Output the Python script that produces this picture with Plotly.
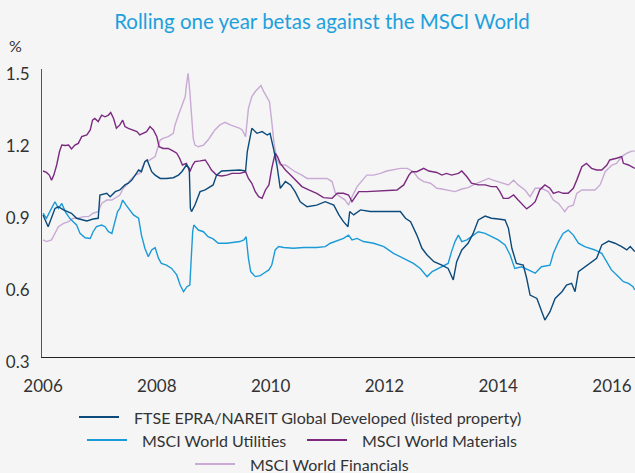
import plotly.graph_objects as go

# ---------------- data (decimal years, beta) ----------------
series_names = [
    "FTSE EPRA/NAREIT Global Developed (listed property)",
    "MSCI World Utilities",
    "MSCI World Materials",
    "MSCI World Financials",
]
series_colors = ["#0c4a7b", "#1a9bd7", "#7b2a80", "#c9aad4"]

ftse_year = [2006.00, 2006.09, 2006.21, 2006.27, 2006.36, 2006.45, 2006.50, 2006.59, 2006.68, 2006.77,
             2006.88, 2006.97, 2007.00, 2007.12, 2007.18, 2007.27, 2007.35, 2007.44, 2007.50, 2007.56,
             2007.62, 2007.68, 2007.73, 2007.79, 2007.83, 2007.91, 2007.97, 2008.06, 2008.17, 2008.29,
             2008.38, 2008.44, 2008.52, 2008.57, 2008.59, 2008.61, 2008.67, 2008.76, 2008.85, 2008.93,
             2008.99, 2009.05, 2009.14, 2009.46, 2009.56, 2009.59, 2009.67, 2009.76, 2009.85, 2009.94,
             2009.99, 2010.05, 2010.11, 2010.17, 2010.26, 2010.35, 2010.43, 2010.52, 2010.64, 2010.81,
             2010.96, 2011.11, 2011.20, 2011.28, 2011.36, 2011.39, 2011.46, 2011.58, 2011.75, 2011.99,
             2012.28, 2012.37, 2012.46, 2012.57, 2012.66, 2012.75, 2012.87, 2013.01, 2013.12, 2013.21,
             2013.27, 2013.36, 2013.47, 2013.56, 2013.65, 2013.77, 2013.88, 2014.00, 2014.12, 2014.18,
             2014.24, 2014.32, 2014.44, 2014.50, 2014.56, 2014.68, 2014.76, 2014.82, 2014.91, 2015.00,
             2015.12, 2015.20, 2015.29, 2015.35, 2015.41, 2015.52, 2015.64, 2015.73, 2015.82, 2015.94,
             2016.05, 2016.17, 2016.26, 2016.32, 2016.40]
ftse_beta = [0.892, 0.843, 0.919, 0.926, 0.913, 0.906, 0.899, 0.878, 0.871, 0.867,
             0.875, 0.878, 0.975, 0.982, 0.968, 0.989, 0.996, 1.017, 1.024, 1.037,
             1.058, 1.079, 1.072, 1.114, 1.121, 1.072, 1.058, 1.044, 1.044, 1.047,
             1.058, 1.072, 1.100, 1.086, 0.919, 0.906, 0.933, 0.989, 0.996, 1.010,
             1.017, 1.058, 1.075, 1.079, 1.075, 1.156, 1.253, 1.232, 1.239, 1.225,
             1.232, 1.169, 1.100, 1.003, 1.031, 1.017, 0.989, 0.947, 0.926, 0.933,
             0.947, 0.933, 0.892, 0.864, 0.843, 0.906, 0.892, 0.913, 0.906, 0.906,
             0.906, 0.878, 0.864, 0.808, 0.753, 0.725, 0.697, 0.683, 0.669, 0.621,
             0.697, 0.746, 0.774, 0.815, 0.871, 0.887, 0.878, 0.875, 0.871, 0.836,
             0.753, 0.690, 0.683, 0.628, 0.558, 0.544, 0.489, 0.454, 0.489, 0.544,
             0.572, 0.600, 0.607, 0.572, 0.656, 0.676, 0.697, 0.711, 0.767, 0.783,
             0.774, 0.760, 0.746, 0.760, 0.739]

util_year = [2006.00, 2006.06, 2006.12, 2006.21, 2006.27, 2006.33, 2006.39, 2006.47, 2006.53, 2006.59,
             2006.65, 2006.74, 2006.83, 2006.88, 2006.94, 2007.03, 2007.09, 2007.15, 2007.21, 2007.27,
             2007.31, 2007.35, 2007.40, 2007.46, 2007.50, 2007.59, 2007.68, 2007.73, 2007.79, 2007.85,
             2007.91, 2007.97, 2008.03, 2008.08, 2008.17, 2008.26, 2008.35, 2008.41, 2008.47, 2008.53,
             2008.58, 2008.63, 2008.65, 2008.73, 2008.82, 2008.90, 2008.99, 2009.08, 2009.23, 2009.46,
             2009.53, 2009.57, 2009.61, 2009.65, 2009.73, 2009.82, 2009.88, 2009.97, 2010.02, 2010.08,
             2010.14, 2010.23, 2010.40, 2010.58, 2010.81, 2010.96, 2011.05, 2011.17, 2011.28, 2011.37,
             2011.43, 2011.52, 2011.63, 2011.81, 2011.99, 2012.16, 2012.34, 2012.51, 2012.63, 2012.75,
             2012.84, 2013.01, 2013.12, 2013.18, 2013.24, 2013.30, 2013.36, 2013.45, 2013.53, 2013.65,
             2013.77, 2013.88, 2014.00, 2014.12, 2014.21, 2014.29, 2014.41, 2014.53, 2014.65, 2014.76,
             2014.91, 2014.97, 2015.06, 2015.14, 2015.23, 2015.32, 2015.41, 2015.52, 2015.70, 2015.82,
             2015.91, 2015.99, 2016.11, 2016.20, 2016.29, 2016.37, 2016.40]
util_beta = [0.899, 0.878, 0.906, 0.947, 0.919, 0.940, 0.906, 0.878, 0.864, 0.850,
             0.815, 0.797, 0.794, 0.822, 0.843, 0.850, 0.843, 0.822, 0.815, 0.864,
             0.906, 0.919, 0.954, 0.933, 0.919, 0.892, 0.878, 0.808, 0.753, 0.718,
             0.746, 0.756, 0.711, 0.690, 0.683, 0.669, 0.642, 0.600, 0.572, 0.593,
             0.600, 0.822, 0.850, 0.829, 0.822, 0.801, 0.792, 0.774, 0.774, 0.781,
             0.788, 0.801, 0.711, 0.656, 0.635, 0.639, 0.649, 0.663, 0.683, 0.746,
             0.760, 0.756, 0.753, 0.756, 0.756, 0.760, 0.774, 0.783, 0.794, 0.808,
             0.788, 0.794, 0.781, 0.774, 0.760, 0.732, 0.711, 0.690, 0.669, 0.635,
             0.656, 0.676, 0.690, 0.739, 0.781, 0.808, 0.781, 0.788, 0.801, 0.822,
             0.815, 0.801, 0.788, 0.767, 0.725, 0.669, 0.676, 0.663, 0.649, 0.676,
             0.683, 0.732, 0.781, 0.815, 0.829, 0.808, 0.774, 0.760, 0.746, 0.732,
             0.697, 0.663, 0.635, 0.614, 0.607, 0.593, 0.579]

mat_year = [2006.00, 2006.06, 2006.11, 2006.15, 2006.19, 2006.24, 2006.29, 2006.33, 2006.39, 2006.45,
            2006.50, 2006.56, 2006.62, 2006.68, 2006.77, 2006.83, 2006.87, 2006.91, 2006.97, 2007.03,
            2007.09, 2007.15, 2007.19, 2007.24, 2007.29, 2007.35, 2007.40, 2007.44, 2007.50, 2007.59,
            2007.65, 2007.70, 2007.76, 2007.82, 2007.88, 2007.94, 2008.00, 2008.04, 2008.11, 2008.20,
            2008.29, 2008.35, 2008.40, 2008.45, 2008.52, 2008.58, 2008.63, 2008.67, 2008.76, 2008.85,
            2008.91, 2008.96, 2009.05, 2009.14, 2009.23, 2009.32, 2009.46, 2009.50, 2009.56, 2009.61,
            2009.67, 2009.73, 2009.79, 2009.85, 2009.91, 2009.97, 2010.02, 2010.08, 2010.12, 2010.17,
            2010.26, 2010.35, 2010.43, 2010.55, 2010.67, 2010.81, 2010.93, 2011.08, 2011.17, 2011.28,
            2011.37, 2011.43, 2011.49, 2011.55, 2011.69, 2011.87, 2012.04, 2012.22, 2012.34, 2012.43,
            2012.48, 2012.57, 2012.69, 2012.78, 2012.92, 2013.01, 2013.09, 2013.18, 2013.30, 2013.36,
            2013.45, 2013.53, 2013.65, 2013.77, 2013.88, 2013.97, 2014.03, 2014.09, 2014.18, 2014.27,
            2014.35, 2014.44, 2014.50, 2014.59, 2014.65, 2014.73, 2014.82, 2014.91, 2014.97, 2015.06,
            2015.14, 2015.23, 2015.32, 2015.38, 2015.47, 2015.55, 2015.64, 2015.73, 2015.82, 2015.91,
            2015.96, 2016.08, 2016.17, 2016.20, 2016.29, 2016.40]
mat_beta = [1.075, 1.069, 1.058, 1.037, 1.058, 1.100, 1.156, 1.183, 1.181, 1.183,
            1.167, 1.183, 1.190, 1.218, 1.225, 1.246, 1.287, 1.294, 1.281, 1.308,
            1.301, 1.308, 1.319, 1.294, 1.253, 1.267, 1.287, 1.260, 1.253, 1.246,
            1.239, 1.225, 1.232, 1.239, 1.260, 1.246, 1.218, 1.176, 1.169, 1.169,
            1.158, 1.149, 1.128, 1.100, 1.107, 1.072, 1.100, 1.114, 1.117, 1.121,
            1.100, 1.079, 1.058, 1.054, 1.058, 1.065, 1.065, 1.069, 1.072, 1.044,
            1.024, 0.989, 0.968, 0.961, 0.996, 1.017, 1.086, 1.149, 1.135, 1.107,
            1.079, 1.058, 1.037, 1.010, 0.996, 0.982, 0.964, 0.961, 0.982, 0.982,
            0.975, 0.947, 0.968, 0.989, 0.989, 0.992, 0.996, 0.996, 1.017, 1.058,
            1.072, 1.072, 1.086, 1.075, 1.069, 1.058, 1.065, 1.058, 1.065, 1.075,
            1.051, 1.024, 1.017, 1.017, 1.010, 1.010, 0.989, 0.961, 0.961, 0.975,
            0.954, 0.933, 0.917, 0.933, 0.947, 0.996, 1.017, 1.003, 0.982, 0.989,
            0.982, 0.982, 1.003, 1.037, 1.093, 1.107, 1.086, 1.079, 1.079, 1.100,
            1.121, 1.128, 1.135, 1.107, 1.100, 1.086]

fin_year = [2006.00, 2006.06, 2006.15, 2006.21, 2006.27, 2006.36, 2006.45, 2006.53, 2006.62, 2006.71,
            2006.80, 2006.88, 2006.97, 2007.03, 2007.12, 2007.21, 2007.29, 2007.35, 2007.41, 2007.47,
            2007.53, 2007.62, 2007.70, 2007.79, 2007.88, 2007.97, 2008.03, 2008.06, 2008.11, 2008.20,
            2008.29, 2008.32, 2008.38, 2008.44, 2008.50, 2008.52, 2008.55, 2008.58, 2008.61, 2008.64,
            2008.67, 2008.73, 2008.82, 2008.90, 2008.96, 2009.02, 2009.11, 2009.20, 2009.29, 2009.38,
            2009.46, 2009.50, 2009.56, 2009.61, 2009.67, 2009.73, 2009.79, 2009.83, 2009.88, 2009.94,
            2009.98, 2010.02, 2010.06, 2010.11, 2010.17, 2010.26, 2010.35, 2010.43, 2010.55, 2010.64,
            2010.76, 2010.87, 2010.99, 2011.08, 2011.14, 2011.22, 2011.31, 2011.37, 2011.43, 2011.52,
            2011.61, 2011.69, 2011.81, 2011.93, 2012.04, 2012.16, 2012.28, 2012.40, 2012.51, 2012.60,
            2012.69, 2012.81, 2012.92, 2013.01, 2013.12, 2013.24, 2013.36, 2013.47, 2013.59, 2013.71,
            2013.83, 2013.91, 2014.00, 2014.09, 2014.18, 2014.27, 2014.35, 2014.47, 2014.56, 2014.65,
            2014.76, 2014.88, 2014.97, 2015.06, 2015.17, 2015.23, 2015.32, 2015.38, 2015.47, 2015.58,
            2015.70, 2015.79, 2015.88, 2016.00, 2016.08, 2016.17, 2016.26, 2016.35, 2016.40]
fin_beta = [0.788, 0.781, 0.788, 0.815, 0.843, 0.857, 0.864, 0.878, 0.878, 0.885,
            0.885, 0.899, 0.906, 0.940, 0.954, 0.954, 0.968, 0.975, 1.003, 1.017,
            1.037, 1.058, 1.065, 1.114, 1.121, 1.135, 1.183, 1.204, 1.211, 1.218,
            1.232, 1.267, 1.308, 1.350, 1.385, 1.433, 1.482, 1.406, 1.308, 1.211,
            1.183, 1.176, 1.183, 1.204, 1.225, 1.246, 1.267, 1.278, 1.267, 1.260,
            1.253, 1.246, 1.218, 1.336, 1.385, 1.406, 1.419, 1.431, 1.406, 1.378,
            1.364, 1.281, 1.190, 1.121, 1.100, 1.100, 1.086, 1.072, 1.058, 1.044,
            1.044, 1.044, 1.044, 1.031, 0.982, 0.968, 0.954, 0.933, 0.968, 1.010,
            1.037, 1.058, 1.058, 1.065, 1.075, 1.079, 1.086, 1.086, 1.072, 1.044,
            1.031, 1.024, 1.003, 1.000, 0.996, 0.989, 1.000, 1.006, 1.020, 1.031,
            1.044, 1.037, 1.031, 1.024, 1.017, 1.037, 1.017, 0.996, 0.968, 1.003,
            1.003, 0.989, 0.954, 0.940, 0.906, 0.926, 0.933, 0.982, 0.996, 0.996,
            0.996, 1.017, 1.072, 1.100, 1.107, 1.135, 1.149, 1.158, 1.158]

x_tick_vals = [2006, 2008, 2010, 2012, 2014, 2016]
x_tick_text = ["2006", "2008", "2010", "2012", "2014", "2016"]
y_tick_vals = [0.3, 0.6, 0.9, 1.2, 1.5]
y_tick_text = ["0.3", "0.6", "0.9", "1.2", "1.5"]

title_text = "Rolling one year betas against the MSCI World"
unit_text = "%"

# ---------------- figure ----------------
W, H = 635, 473
ML, MR, MT, MB = 42, 0, 69, 116
PW, PH = W - ML - MR, H - MT - MB
FONT = "Lato, 'Open Sans', sans-serif"
TXT = "#333333"
BG = "#f5f5f5"


def paper(px, py):
    return (px - ML) / PW, (H - MB - py) / PH


xs = [ftse_year, util_year, mat_year, fin_year]
ys = [ftse_beta, util_beta, mat_beta, fin_beta]
draw_order = [3, 2, 1, 0]

fig = go.Figure()
for i in draw_order:
    fig.add_trace(go.Scatter(x=xs[i], y=ys[i], mode="lines", name=series_names[i],
                             line=dict(color=series_colors[i], width=1.4), showlegend=False,
                             hoverinfo="skip"))

# custom centred legend (rows as in the original)
legend_rows = [
    [(0, 79, 417)],
    [(1, 87, 440), (2, 307, 440)],
    [(3, 195, 464)],
]
shapes = []
annotations = []
for row in legend_rows:
    for idx, lx, ly in row:
        x0, y0 = paper(lx, ly)
        x1, _ = paper(lx + 40, ly)
        shapes.append(dict(type="line", xref="paper", yref="paper", x0=x0, x1=x1, y0=y0, y1=y0,
                           line=dict(color=series_colors[idx], width=2)))
        tx, ty = paper(lx + 53, ly)
        annotations.append(dict(xref="paper", yref="paper", x=tx, y=ty, xanchor="left", yanchor="middle",
                                text=series_names[idx], showarrow=False,
                                font=dict(family=FONT, size=16, color=TXT)))

ux, uy = paper(15, 45)
annotations.append(dict(xref="paper", yref="paper", x=ux, y=uy, xanchor="center", yanchor="middle",
                        text=unit_text, showarrow=False, font=dict(family=FONT, size=16, color=TXT)))

fig.update_layout(
    width=W, height=H,
    margin=dict(l=ML, r=MR, t=MT, b=MB),
    paper_bgcolor=BG, plot_bgcolor=BG,
    title=dict(text=title_text, x=322 / W, xanchor="center", y=1 - 22 / H, yanchor="middle",
               font=dict(family=FONT, size=20.5, color="#1ea0dc")),
    shapes=shapes, annotations=annotations,
    showlegend=False,
    hovermode=False,
    xaxis=dict(range=[2005.982, 2016.404], tickmode="array", tickvals=x_tick_vals, ticktext=x_tick_text,
               showgrid=False, zeroline=False, showline=True, linecolor="#222222", linewidth=1,
               ticks="", tickfont=dict(family=FONT, size=17, color=TXT), ticklabelstandoff=14),
    yaxis=dict(range=[0.3, 1.5], tickmode="array", tickvals=y_tick_vals, ticktext=y_tick_text,
               showgrid=False, zeroline=False, showline=True, linecolor="#555555", linewidth=1,
               ticks="", tickfont=dict(family=FONT, size=17, color=TXT), ticklabelshift=5,
               ticklabelstandoff=8),
)

fig.write_html("out.html", config={"displayModeBar": False, "staticPlot": True},
               post_script="document.body.style.margin='0';document.body.style.overflow='hidden';")
